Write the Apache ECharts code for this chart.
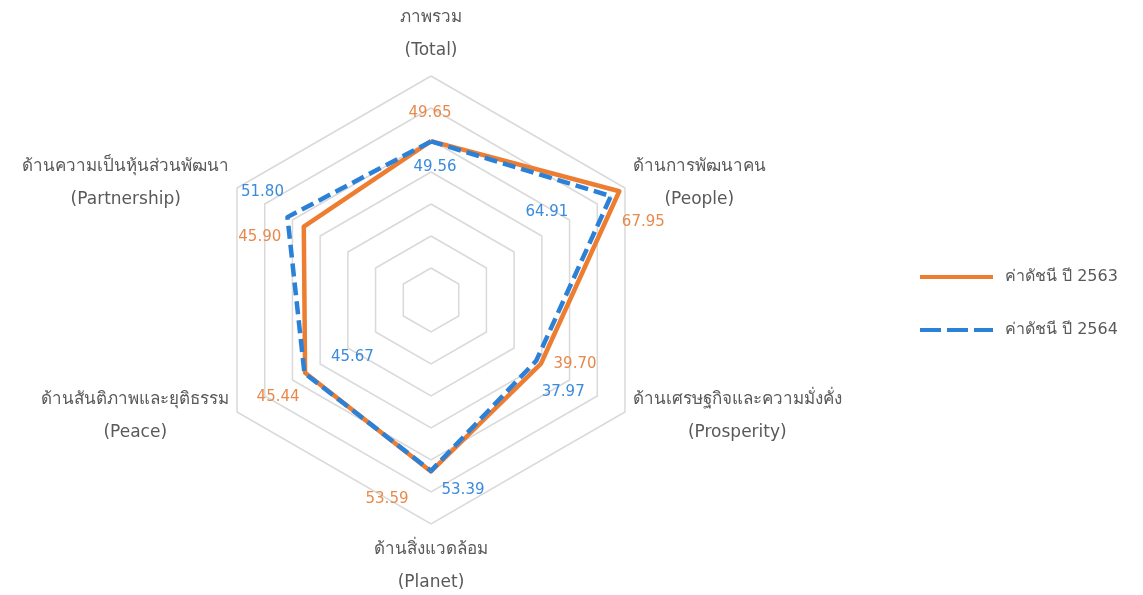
<!DOCTYPE html>
<html>
<head>
<meta charset="utf-8">
<title>radar</title>
<script src="https://cdn.jsdelivr.net/npm/echarts@6/dist/echarts.min.js"></script>
<style>
  html, body { margin: 0; padding: 0; background: #fff; }
  #main { width: 1143px; height: 595px; }
</style>
</head>
<body>
<div id="main"></div>
<script>
// ข้อมูล (ลำดับตามเข็มนาฬิกา เริ่มจากด้านบน)
var categories = ['ภาพรวม', 'ด้านการพัฒนาคน', 'ด้านเศรษฐกิจและความมั่งคั่ง', 'ด้านสิ่งแวดล้อม', 'ด้านสันติภาพและยุติธรรม', 'ด้านความเป็นหุ้นส่วนพัฒนา']
var categoriesEn = ['(Total)', '(People)', '(Prosperity)', '(Planet)', '(Peace)', '(Partnership)']
var seriesNames = ['ค่าดัชนี ปี 2563', 'ค่าดัชนี ปี 2564']
var values2563 = [49.65, 67.95, 39.70, 53.59, 45.44, 45.90]
var values2564 = [49.56, 64.91, 37.97, 53.39, 45.67, 51.80]
var axisMax = 70

// ระยะเลื่อนป้ายตัวเลข (dx, dy) ของแต่ละจุด
var offs2563 = [[-1, -28], [24, 31], [34, 1], [-44, 28], [-27, 24], [-44, 11]]
var offs2564 = [[4, 26], [-64, 16], [27, 31], [32, 19], [48, -16], [-25, -25]]

var orange = '#ED7D31'
var blue = '#2B80D8'
var textGrey = '#595959'
var font = '"DejaVu Sans", "Noto Sans", sans-serif'

// echarts วาดแกนทวนเข็มนาฬิกา จึงต้องเรียงใหม่
var order = [0, 5, 4, 3, 2, 1]
function reorder(arr) { return order.map(function (i) { return arr[i] }) }

function pad(o) {
  var dx = o[0], dy = o[1]
  return [dy > 0 ? 2 * dy : 0, dx < 0 ? -2 * dx : 0, dy < 0 ? -2 * dy : 0, dx > 0 ? 2 * dx : 0]
}

function makeLabel(vals, offs, key, color) {
  var rich = {}
  offs.forEach(function (o, i) {
    rich[key + i] = { padding: pad(o), color: color, fontSize: 15, fontFamily: font }
  })
  return {
    show: true,
    position: 'inside',
    formatter: function (p) {
      var v = Array.isArray(p.value) ? p.value[0] : p.value
      var i = vals.indexOf(v)
      return '{' + key + i + '|' + v.toFixed(2) + '}'
    },
    rich: rich
  }
}

var myChart = echarts.init(document.getElementById('main'))

var option = {
  backgroundColor: '#fff',
  animation: false,
  legend: {
    orient: 'vertical',
    left: 920,
    top: 269,
    padding: 0,
    itemWidth: 73,
    itemHeight: 4,
    itemGap: 37,
    textStyle: { color: textGrey, fontSize: 16, lineHeight: 16, fontFamily: font, padding: [0, 0, 0, 7] },
    data: [
      { name: seriesNames[0], icon: 'rect' },
      { name: seriesNames[1], icon: 'path://M0,0h21v4h-21zM27,0h21v4h-21zM54,0h19v4h-19z' }
    ]
  },
  radar: {
    center: [431, 300],
    radius: 224,
    shape: 'polygon',
    splitNumber: 7,
    axisNameGap: 9,
    indicator: reorder(categories).map(function (c) { return { name: c, max: axisMax, min: 0 } }),
    axisName: {
      formatter: function (name) {
        var i = categories.indexOf(name)
        return '{n|' + name + '}\n{n|' + categoriesEn[i] + '}'
      },
      rich: {
        n: { align: 'center', color: textGrey, fontSize: 17, lineHeight: 33, fontFamily: font }
      }
    },
    axisLine: { show: false },
    axisTick: { show: false },
    axisLabel: { show: false },
    splitArea: { show: false },
    splitLine: { lineStyle: { color: '#D9D9D9', width: 1.5 } }
  },
  series: [
    {
      name: seriesNames[0],
      type: 'radar',
      symbol: 'circle',
      symbolSize: 1,
      itemStyle: { color: orange },
      lineStyle: { color: orange, width: 4.5 },
      label: makeLabel(values2563, offs2563, 'o', '#E8894C'),
      emphasis: { disabled: true },
      data: [{ name: seriesNames[0], value: reorder(values2563) }]
    },
    {
      name: seriesNames[1],
      type: 'radar',
      symbol: 'circle',
      symbolSize: 1,
      itemStyle: { color: blue },
      lineStyle: { color: blue, width: 4.5, type: [13, 6] },
      label: makeLabel(values2564, offs2564, 'b', '#3A8BDD'),
      emphasis: { disabled: true },
      data: [{ name: seriesNames[1], value: reorder(values2564) }]
    }
  ]
}

myChart.setOption(option)
</script>
</body>
</html>
